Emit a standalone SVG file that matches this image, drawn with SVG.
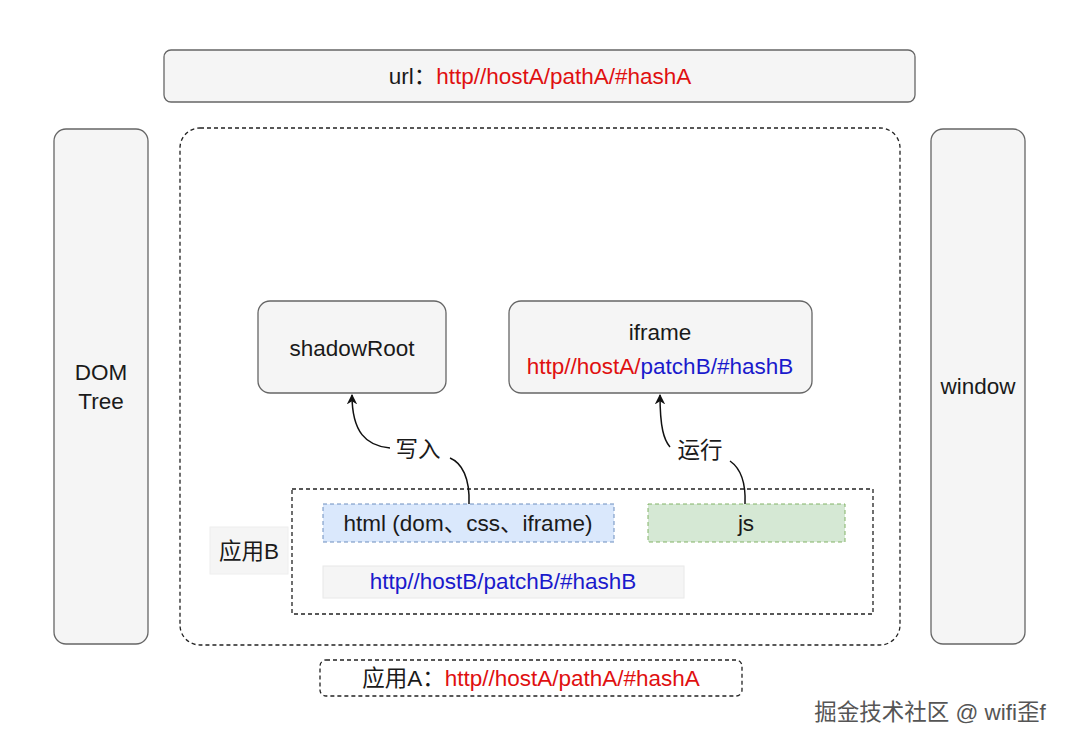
<svg xmlns="http://www.w3.org/2000/svg" width="1080" height="747" viewBox="0 0 1080 747">
<style>
text{font-family:"Liberation Sans","Noto Sans CJK SC",sans-serif;font-size:22.5px;fill:#1a1a1a;text-anchor:middle;dominant-baseline:central}
.box{fill:#f5f5f5;stroke:#666;stroke-width:1.3}
.red{fill:#e01010}.blue{fill:#1a1acc}
.dash{fill:none;stroke:#222;stroke-width:1.3;stroke-dasharray:4 3}
.con{fill:none;stroke:#111;stroke-width:1.5}
</style>
<defs><marker id="ar" viewBox="0 0 10 10" refX="9" refY="5" markerWidth="7" markerHeight="7" orient="auto"><path d="M0,0 L10,5 L0,10 L3,5 Z" fill="#111"/></marker></defs>
<rect width="1080" height="747" fill="#fff"/>
<g id="url"><rect class="box" x="164" y="50" width="751" height="52" rx="7"/><text x="540" y="76"><tspan>url：</tspan><tspan class="red">http//hostA/pathA/#hashA</tspan></text></g>
<g id="appA-container"><rect class="dash" x="180" y="128" width="720" height="517" rx="20"/></g>
<g id="dom"><rect class="box" x="54" y="129" width="94" height="515" rx="12"/><text x="101" y="372">DOM</text><text x="101" y="401">Tree</text></g>
<g id="window"><rect class="box" x="931" y="129" width="94" height="515" rx="12"/><text x="978" y="386">window</text></g>
<g id="shadowRoot"><rect class="box" x="258" y="301" width="188" height="92" rx="12"/><text x="352" y="348">shadowRoot</text></g>
<g id="iframe"><rect class="box" x="509" y="301" width="303" height="92" rx="12"/><text x="660" y="332" font-size="25">iframe</text><text x="660" y="366"><tspan class="red">http//hostA/</tspan><tspan class="blue">patchB/#hashB</tspan></text></g>
<g id="appB"><rect class="dash" x="292" y="489" width="581" height="125"/>
<rect x="210" y="527" width="78" height="47" fill="#f5f5f5" stroke="#eee"/><text x="249" y="551">应用B</text></g>
<g id="html"><rect x="323" y="504" width="291" height="38" fill="#dae8fc" stroke="#6c8ebf" stroke-dasharray="4 3"/><text x="468" y="523">html (dom、css、iframe)</text></g>
<g id="js"><rect x="648" y="504" width="197" height="38" fill="#d5e8d4" stroke="#82b366" stroke-dasharray="4 3"/><text x="746" y="523">js</text></g>
<g id="urlB"><rect x="323" y="566" width="361" height="32" fill="#f5f5f5" stroke="#e8e8e8"/><text x="503" y="581" class="blue">http//hostB/patchB/#hashB</text></g>
<g id="appA"><rect class="dash" x="320" y="660" width="422" height="36" rx="6" fill="#f5f5f5" stroke="#555"/><text x="531" y="678"><tspan>应用A：</tspan><tspan class="red">http//hostA/pathA/#hashA</tspan></text></g>
<g id="connectors">
<path class="con" d="M469,504 C470,478 462,463 450,458"/>
<path class="con" d="M390,448 C366,446 352,432 352,395" marker-end="url(#ar)"/>
<text x="418" y="449">写入</text>
<path class="con" d="M745,504 C746,482 740,468 730,461"/>
<path class="con" d="M670,447 C664,440 660,428 660,395" marker-end="url(#ar)"/>
<text x="700" y="450">运行</text>
</g>
<text x="930" y="712" font-size="23" style="fill:#555">掘金技术社区 @ wifi歪f</text>
</svg>
